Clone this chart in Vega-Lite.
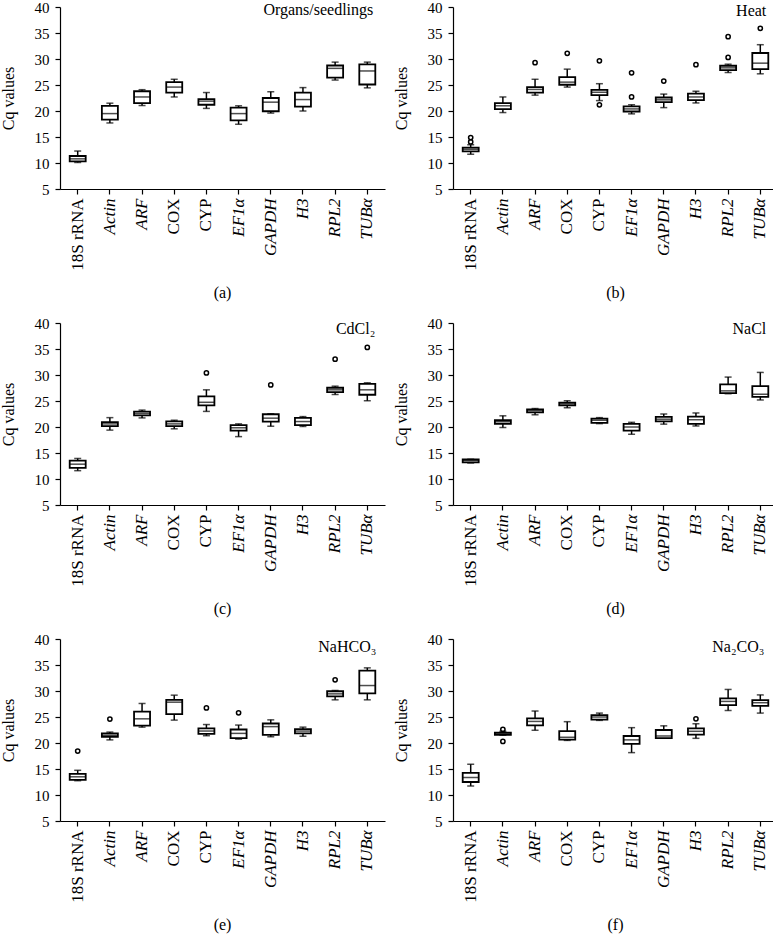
{
  "$schema": "https://vega.github.io/schema/vega-lite/v6.json",
  "padding": {"left": 0, "top": 0, "right": 0, "bottom": 0},
  "datasets": {
    "cq": [
      {"panel": "a", "kind": "label", "name": "Organs/seedlings"},
      {"panel": "b", "kind": "label", "name": "Heat"},
      {"panel": "c", "kind": "label", "name": "CdCl₂"},
      {"panel": "d", "kind": "label", "name": "NaCl"},
      {"panel": "e", "kind": "label", "name": "NaHCO₃"},
      {"panel": "f", "kind": "label", "name": "Na₂CO₃"},

      {"panel": "a", "kind": "box", "gene": "18S rRNA", "lo": 10.1, "q1": 10.3, "med": 10.8, "q3": 11.35, "hi": 12.3},
      {"panel": "a", "kind": "box", "gene": "Actin", "lo": 17.7, "q1": 18.35, "med": 19.5, "q3": 21.0, "hi": 21.5},
      {"panel": "a", "kind": "box", "gene": "ARF", "lo": 21.05, "q1": 21.5, "med": 22.7, "q3": 23.8, "hi": 24.1},
      {"panel": "a", "kind": "box", "gene": "COX", "lo": 22.7, "q1": 23.55, "med": 24.6, "q3": 25.55, "hi": 26.1},
      {"panel": "a", "kind": "box", "gene": "CYP", "lo": 20.5, "q1": 21.2, "med": 21.9, "q3": 22.3, "hi": 23.55},
      {"panel": "a", "kind": "box", "gene": "EF1α", "lo": 17.45, "q1": 18.2, "med": 19.5, "q3": 20.65, "hi": 21.0},
      {"panel": "a", "kind": "box", "gene": "GAPDH", "lo": 19.6, "q1": 19.95, "med": 21.7, "q3": 22.5, "hi": 23.7},
      {"panel": "a", "kind": "box", "gene": "H3", "lo": 20.0, "q1": 20.85, "med": 22.2, "q3": 23.55, "hi": 24.5},
      {"panel": "a", "kind": "box", "gene": "RPL2", "lo": 25.95, "q1": 26.4, "med": 28.2, "q3": 28.75, "hi": 29.4},
      {"panel": "a", "kind": "box", "gene": "TUBα", "lo": 24.45, "q1": 25.1, "med": 27.7, "q3": 28.95, "hi": 29.4},

      {"panel": "b", "kind": "box", "gene": "18S rRNA", "lo": 11.7, "q1": 12.25, "med": 12.65, "q3": 12.95, "hi": 13.5},
      {"panel": "b", "kind": "box", "gene": "Actin", "lo": 19.7, "q1": 20.35, "med": 21.0, "q3": 21.5, "hi": 22.7},
      {"panel": "b", "kind": "box", "gene": "ARF", "lo": 23.05, "q1": 23.55, "med": 24.15, "q3": 24.6, "hi": 26.1},
      {"panel": "b", "kind": "box", "gene": "COX", "lo": 24.6, "q1": 25.05, "med": 25.55, "q3": 26.5, "hi": 28.05},
      {"panel": "b", "kind": "box", "gene": "CYP", "lo": 22.0, "q1": 23.05, "med": 23.6, "q3": 24.05, "hi": 25.25},
      {"panel": "b", "kind": "box", "gene": "EF1α", "lo": 19.45, "q1": 19.9, "med": 20.4, "q3": 20.9, "hi": 21.2},
      {"panel": "b", "kind": "box", "gene": "GAPDH", "lo": 20.65, "q1": 21.7, "med": 22.15, "q3": 22.6, "hi": 23.25},
      {"panel": "b", "kind": "box", "gene": "H3", "lo": 21.55, "q1": 22.1, "med": 22.7, "q3": 23.35, "hi": 23.8},
      {"panel": "b", "kind": "box", "gene": "RPL2", "lo": 27.4, "q1": 27.85, "med": 28.3, "q3": 28.7, "hi": 29.0},
      {"panel": "b", "kind": "box", "gene": "TUBα", "lo": 27.15, "q1": 28.05, "med": 29.2, "q3": 31.15, "hi": 32.75},
      {"panel": "b", "kind": "out", "gene": "18S rRNA", "value": 14.05},
      {"panel": "b", "kind": "out", "gene": "18S rRNA", "value": 14.9},
      {"panel": "b", "kind": "out", "gene": "ARF", "value": 29.3},
      {"panel": "b", "kind": "out", "gene": "COX", "value": 31.1},
      {"panel": "b", "kind": "out", "gene": "CYP", "value": 29.65},
      {"panel": "b", "kind": "out", "gene": "CYP", "value": 21.2},
      {"panel": "b", "kind": "out", "gene": "EF1α", "value": 27.35},
      {"panel": "b", "kind": "out", "gene": "EF1α", "value": 22.7},
      {"panel": "b", "kind": "out", "gene": "GAPDH", "value": 25.75},
      {"panel": "b", "kind": "out", "gene": "H3", "value": 28.9},
      {"panel": "b", "kind": "out", "gene": "RPL2", "value": 34.3},
      {"panel": "b", "kind": "out", "gene": "RPL2", "value": 30.3},
      {"panel": "b", "kind": "out", "gene": "TUBα", "value": 35.9},

      {"panel": "c", "kind": "box", "gene": "18S rRNA", "lo": 11.6, "q1": 12.15, "med": 12.85, "q3": 13.55, "hi": 13.95},
      {"panel": "c", "kind": "box", "gene": "Actin", "lo": 19.4, "q1": 20.15, "med": 20.6, "q3": 20.95, "hi": 21.8},
      {"panel": "c", "kind": "box", "gene": "ARF", "lo": 21.75, "q1": 22.25, "med": 22.6, "q3": 22.95, "hi": 23.25},
      {"panel": "c", "kind": "box", "gene": "COX", "lo": 19.65, "q1": 20.15, "med": 20.6, "q3": 21.1, "hi": 21.3},
      {"panel": "c", "kind": "box", "gene": "CYP", "lo": 23.0, "q1": 24.15, "med": 24.75, "q3": 25.9, "hi": 27.15},
      {"panel": "c", "kind": "box", "gene": "EF1α", "lo": 18.15, "q1": 19.3, "med": 19.85, "q3": 20.35, "hi": 20.6},
      {"panel": "c", "kind": "box", "gene": "GAPDH", "lo": 20.15, "q1": 21.05, "med": 21.7, "q3": 22.45, "hi": 22.55},
      {"panel": "c", "kind": "box", "gene": "H3", "lo": 20.1, "q1": 20.35, "med": 21.05, "q3": 21.75, "hi": 22.0},
      {"panel": "c", "kind": "box", "gene": "RPL2", "lo": 26.25, "q1": 26.7, "med": 27.15, "q3": 27.55, "hi": 27.85},
      {"panel": "c", "kind": "box", "gene": "TUBα", "lo": 25.05, "q1": 26.2, "med": 27.15, "q3": 28.3, "hi": 28.5},
      {"panel": "c", "kind": "out", "gene": "CYP", "value": 30.4},
      {"panel": "c", "kind": "out", "gene": "GAPDH", "value": 28.1},
      {"panel": "c", "kind": "out", "gene": "RPL2", "value": 33.05},
      {"panel": "c", "kind": "out", "gene": "TUBα", "value": 35.3},

      {"panel": "d", "kind": "box", "gene": "18S rRNA", "lo": 13.1, "q1": 13.2, "med": 13.55, "q3": 13.75, "hi": 13.8},
      {"panel": "d", "kind": "box", "gene": "Actin", "lo": 19.9, "q1": 20.6, "med": 21.0, "q3": 21.3, "hi": 22.15},
      {"panel": "d", "kind": "box", "gene": "ARF", "lo": 22.35, "q1": 22.8, "med": 23.15, "q3": 23.4, "hi": 23.55},
      {"panel": "d", "kind": "box", "gene": "COX", "lo": 23.7, "q1": 24.15, "med": 24.45, "q3": 24.7, "hi": 25.05},
      {"panel": "d", "kind": "box", "gene": "CYP", "lo": 20.65, "q1": 20.8, "med": 21.3, "q3": 21.6, "hi": 21.8},
      {"panel": "d", "kind": "box", "gene": "EF1α", "lo": 18.6, "q1": 19.3, "med": 20.0, "q3": 20.6, "hi": 20.9},
      {"panel": "d", "kind": "box", "gene": "GAPDH", "lo": 20.55, "q1": 21.1, "med": 21.5, "q3": 21.95, "hi": 22.5},
      {"panel": "d", "kind": "box", "gene": "H3", "lo": 20.2, "q1": 20.6, "med": 21.4, "q3": 22.0, "hi": 22.7},
      {"panel": "d", "kind": "box", "gene": "RPL2", "lo": 26.4, "q1": 26.5, "med": 26.95, "q3": 28.2, "hi": 29.6},
      {"panel": "d", "kind": "box", "gene": "TUBα", "lo": 25.2, "q1": 25.8, "med": 26.3, "q3": 27.85, "hi": 30.5},

      {"panel": "e", "kind": "box", "gene": "18S rRNA", "lo": 12.75, "q1": 12.9, "med": 13.5, "q3": 14.05, "hi": 14.75},
      {"panel": "e", "kind": "box", "gene": "Actin", "lo": 20.6, "q1": 21.2, "med": 21.5, "q3": 21.85, "hi": 22.1},
      {"panel": "e", "kind": "box", "gene": "ARF", "lo": 23.05, "q1": 23.35, "med": 24.65, "q3": 26.05, "hi": 27.6},
      {"panel": "e", "kind": "box", "gene": "COX", "lo": 24.4, "q1": 25.55, "med": 27.85, "q3": 28.3, "hi": 29.2},
      {"panel": "e", "kind": "box", "gene": "CYP", "lo": 21.4, "q1": 21.75, "med": 22.3, "q3": 22.8, "hi": 23.55},
      {"panel": "e", "kind": "box", "gene": "EF1α", "lo": 20.75, "q1": 20.95, "med": 21.85, "q3": 22.6, "hi": 23.45},
      {"panel": "e", "kind": "box", "gene": "GAPDH", "lo": 21.2, "q1": 21.55, "med": 23.15, "q3": 23.75, "hi": 24.45},
      {"panel": "e", "kind": "box", "gene": "H3", "lo": 21.3, "q1": 21.85, "med": 22.3, "q3": 22.65, "hi": 23.05},
      {"panel": "e", "kind": "box", "gene": "RPL2", "lo": 28.3, "q1": 28.95, "med": 29.45, "q3": 29.95, "hi": 30.1},
      {"panel": "e", "kind": "box", "gene": "TUBα", "lo": 28.3, "q1": 29.55, "med": 31.05, "q3": 33.9, "hi": 34.45},
      {"panel": "e", "kind": "out", "gene": "18S rRNA", "value": 18.45},
      {"panel": "e", "kind": "out", "gene": "Actin", "value": 24.6},
      {"panel": "e", "kind": "out", "gene": "CYP", "value": 26.75},
      {"panel": "e", "kind": "out", "gene": "EF1α", "value": 25.8},
      {"panel": "e", "kind": "out", "gene": "RPL2", "value": 32.15},

      {"panel": "f", "kind": "box", "gene": "18S rRNA", "lo": 11.75, "q1": 12.5, "med": 13.35, "q3": 14.25, "hi": 15.9},
      {"panel": "f", "kind": "box", "gene": "Actin", "lo": 21.5, "q1": 21.55, "med": 21.8, "q3": 22.0, "hi": 22.25},
      {"panel": "f", "kind": "box", "gene": "ARF", "lo": 22.45, "q1": 23.4, "med": 24.15, "q3": 24.75, "hi": 26.15},
      {"panel": "f", "kind": "box", "gene": "COX", "lo": 20.5, "q1": 20.65, "med": 21.1, "q3": 22.3, "hi": 24.1},
      {"panel": "f", "kind": "box", "gene": "CYP", "lo": 24.35, "q1": 24.5, "med": 25.0, "q3": 25.35, "hi": 25.75},
      {"panel": "f", "kind": "box", "gene": "EF1α", "lo": 18.15, "q1": 19.85, "med": 20.6, "q3": 21.35, "hi": 22.95},
      {"panel": "f", "kind": "box", "gene": "GAPDH", "lo": 20.95, "q1": 20.95, "med": 21.35, "q3": 22.5, "hi": 23.3},
      {"panel": "f", "kind": "box", "gene": "H3", "lo": 20.9, "q1": 21.6, "med": 22.25, "q3": 22.8, "hi": 23.7},
      {"panel": "f", "kind": "box", "gene": "RPL2", "lo": 26.25, "q1": 27.3, "med": 28.0, "q3": 28.6, "hi": 30.3},
      {"panel": "f", "kind": "box", "gene": "TUBα", "lo": 25.75, "q1": 27.15, "med": 27.75, "q3": 28.25, "hi": 29.25},
      {"panel": "f", "kind": "out", "gene": "Actin", "value": 22.6},
      {"panel": "f", "kind": "out", "gene": "Actin", "value": 20.3},
      {"panel": "f", "kind": "out", "gene": "H3", "value": 24.65}
    ]
  },
  "columns": 2,
  "spacing": {"row": 14, "column": 8},
  "concat": [
    {
      "width": 325, "height": 182,
      "data": {"name": "cq"},
      "transform": [{"filter": "datum.panel == 'a'"}],
      "title": {"text": "(a)"},
      "encoding": {"x": {"field": "gene", "type": "nominal", "title": null,
        "scale": {"domain": ["18S rRNA","Actin","ARF","COX","CYP","EF1α","GAPDH","H3","RPL2","TUBα"], "paddingInner": 0, "paddingOuter": 0.05},
        "axis": {"labelFontStyle": {"condition": {"test": "datum.value == '18S rRNA' || datum.value == 'COX' || datum.value == 'CYP'", "value": "normal"}, "value": "italic"}}}},
      "layer": [
        {"transform": [{"filter": "datum.kind == 'box'"}], "mark": {"type": "rule", "color": "black", "strokeWidth": 1.5},
         "encoding": {"y": {"field": "lo", "type": "quantitative", "title": "Cq values", "scale": {"domain": [5, 40]}}, "y2": {"field": "hi"}}},
        {"transform": [{"filter": "datum.kind == 'box'"}], "mark": {"type": "tick", "color": "black", "size": 7, "thickness": 1.5},
         "encoding": {"y": {"field": "lo", "type": "quantitative", "title": "Cq values"}}},
        {"transform": [{"filter": "datum.kind == 'box'"}], "mark": {"type": "tick", "color": "black", "size": 7, "thickness": 1.5},
         "encoding": {"y": {"field": "hi", "type": "quantitative", "title": "Cq values"}}},
        {"transform": [{"filter": "datum.kind == 'box'"}], "mark": {"type": "bar", "fill": "white", "stroke": "black", "strokeWidth": 1.8, "size": 16},
         "encoding": {"y": {"field": "q1", "type": "quantitative", "title": "Cq values"}, "y2": {"field": "q3"}}},
        {"transform": [{"filter": "datum.kind == 'box'"}], "mark": {"type": "tick", "color": "black", "size": 16, "thickness": 1.5},
         "encoding": {"y": {"field": "med", "type": "quantitative", "title": "Cq values"}}},
        {"transform": [{"filter": "datum.kind == 'label'"}], "mark": {"type": "text", "align": "right", "baseline": "top", "fontSize": 16, "dx": 6, "dy": -5, "color": "black"},
         "encoding": {"x": {"datum": "TUBα"}, "y": {"datum": 40}, "text": {"field": "name"}}}
      ]
    },
    {
      "width": 325, "height": 182,
      "data": {"name": "cq"},
      "transform": [{"filter": "datum.panel == 'b'"}],
      "title": {"text": "(b)"},
      "encoding": {"x": {"field": "gene", "type": "nominal", "title": null,
        "scale": {"domain": ["18S rRNA","Actin","ARF","COX","CYP","EF1α","GAPDH","H3","RPL2","TUBα"], "paddingInner": 0, "paddingOuter": 0.05},
        "axis": {"labelFontStyle": {"condition": {"test": "datum.value == '18S rRNA' || datum.value == 'COX' || datum.value == 'CYP'", "value": "normal"}, "value": "italic"}}}},
      "layer": [
        {"transform": [{"filter": "datum.kind == 'box'"}], "mark": {"type": "rule", "color": "black", "strokeWidth": 1.5},
         "encoding": {"y": {"field": "lo", "type": "quantitative", "title": "Cq values", "scale": {"domain": [5, 40]}}, "y2": {"field": "hi"}}},
        {"transform": [{"filter": "datum.kind == 'box'"}], "mark": {"type": "tick", "color": "black", "size": 7, "thickness": 1.5},
         "encoding": {"y": {"field": "lo", "type": "quantitative", "title": "Cq values"}}},
        {"transform": [{"filter": "datum.kind == 'box'"}], "mark": {"type": "tick", "color": "black", "size": 7, "thickness": 1.5},
         "encoding": {"y": {"field": "hi", "type": "quantitative", "title": "Cq values"}}},
        {"transform": [{"filter": "datum.kind == 'box'"}], "mark": {"type": "bar", "fill": "white", "stroke": "black", "strokeWidth": 1.8, "size": 16},
         "encoding": {"y": {"field": "q1", "type": "quantitative", "title": "Cq values"}, "y2": {"field": "q3"}}},
        {"transform": [{"filter": "datum.kind == 'box'"}], "mark": {"type": "tick", "color": "black", "size": 16, "thickness": 1.5},
         "encoding": {"y": {"field": "med", "type": "quantitative", "title": "Cq values"}}},
        {"transform": [{"filter": "datum.kind == 'out'"}], "mark": {"type": "point", "shape": "circle", "filled": false, "stroke": "black", "strokeWidth": 1.5, "size": 18, "opacity": 1},
         "encoding": {"y": {"field": "value", "type": "quantitative", "title": "Cq values"}}},
        {"transform": [{"filter": "datum.kind == 'label'"}], "mark": {"type": "text", "align": "right", "baseline": "top", "fontSize": 16, "dx": 6, "dy": -4, "color": "black"},
         "encoding": {"x": {"datum": "TUBα"}, "y": {"datum": 40}, "text": {"field": "name"}}}
      ]
    },
    {
      "width": 325, "height": 182,
      "data": {"name": "cq"},
      "transform": [{"filter": "datum.panel == 'c'"}],
      "title": {"text": "(c)"},
      "encoding": {"x": {"field": "gene", "type": "nominal", "title": null,
        "scale": {"domain": ["18S rRNA","Actin","ARF","COX","CYP","EF1α","GAPDH","H3","RPL2","TUBα"], "paddingInner": 0, "paddingOuter": 0.05},
        "axis": {"labelFontStyle": {"condition": {"test": "datum.value == '18S rRNA' || datum.value == 'COX' || datum.value == 'CYP'", "value": "normal"}, "value": "italic"}}}},
      "layer": [
        {"transform": [{"filter": "datum.kind == 'box'"}], "mark": {"type": "rule", "color": "black", "strokeWidth": 1.5},
         "encoding": {"y": {"field": "lo", "type": "quantitative", "title": "Cq values", "scale": {"domain": [5, 40]}}, "y2": {"field": "hi"}}},
        {"transform": [{"filter": "datum.kind == 'box'"}], "mark": {"type": "tick", "color": "black", "size": 7, "thickness": 1.5},
         "encoding": {"y": {"field": "lo", "type": "quantitative", "title": "Cq values"}}},
        {"transform": [{"filter": "datum.kind == 'box'"}], "mark": {"type": "tick", "color": "black", "size": 7, "thickness": 1.5},
         "encoding": {"y": {"field": "hi", "type": "quantitative", "title": "Cq values"}}},
        {"transform": [{"filter": "datum.kind == 'box'"}], "mark": {"type": "bar", "fill": "white", "stroke": "black", "strokeWidth": 1.8, "size": 16},
         "encoding": {"y": {"field": "q1", "type": "quantitative", "title": "Cq values"}, "y2": {"field": "q3"}}},
        {"transform": [{"filter": "datum.kind == 'box'"}], "mark": {"type": "tick", "color": "black", "size": 16, "thickness": 1.5},
         "encoding": {"y": {"field": "med", "type": "quantitative", "title": "Cq values"}}},
        {"transform": [{"filter": "datum.kind == 'out'"}], "mark": {"type": "point", "shape": "circle", "filled": false, "stroke": "black", "strokeWidth": 1.5, "size": 18, "opacity": 1},
         "encoding": {"y": {"field": "value", "type": "quantitative", "title": "Cq values"}}},
        {"transform": [{"filter": "datum.kind == 'label'"}], "mark": {"type": "text", "align": "right", "baseline": "top", "fontSize": 16, "dx": 8, "dy": -2, "color": "black"},
         "encoding": {"x": {"datum": "TUBα"}, "y": {"datum": 40}, "text": {"field": "name"}}}
      ]
    },
    {
      "width": 325, "height": 182,
      "data": {"name": "cq"},
      "transform": [{"filter": "datum.panel == 'd'"}],
      "title": {"text": "(d)"},
      "encoding": {"x": {"field": "gene", "type": "nominal", "title": null,
        "scale": {"domain": ["18S rRNA","Actin","ARF","COX","CYP","EF1α","GAPDH","H3","RPL2","TUBα"], "paddingInner": 0, "paddingOuter": 0.05},
        "axis": {"labelFontStyle": {"condition": {"test": "datum.value == '18S rRNA' || datum.value == 'COX' || datum.value == 'CYP'", "value": "normal"}, "value": "italic"}}}},
      "layer": [
        {"transform": [{"filter": "datum.kind == 'box'"}], "mark": {"type": "rule", "color": "black", "strokeWidth": 1.5},
         "encoding": {"y": {"field": "lo", "type": "quantitative", "title": "Cq values", "scale": {"domain": [5, 40]}}, "y2": {"field": "hi"}}},
        {"transform": [{"filter": "datum.kind == 'box'"}], "mark": {"type": "tick", "color": "black", "size": 7, "thickness": 1.5},
         "encoding": {"y": {"field": "lo", "type": "quantitative", "title": "Cq values"}}},
        {"transform": [{"filter": "datum.kind == 'box'"}], "mark": {"type": "tick", "color": "black", "size": 7, "thickness": 1.5},
         "encoding": {"y": {"field": "hi", "type": "quantitative", "title": "Cq values"}}},
        {"transform": [{"filter": "datum.kind == 'box'"}], "mark": {"type": "bar", "fill": "white", "stroke": "black", "strokeWidth": 1.8, "size": 16},
         "encoding": {"y": {"field": "q1", "type": "quantitative", "title": "Cq values"}, "y2": {"field": "q3"}}},
        {"transform": [{"filter": "datum.kind == 'box'"}], "mark": {"type": "tick", "color": "black", "size": 16, "thickness": 1.5},
         "encoding": {"y": {"field": "med", "type": "quantitative", "title": "Cq values"}}},
        {"transform": [{"filter": "datum.kind == 'label'"}], "mark": {"type": "text", "align": "right", "baseline": "top", "fontSize": 16, "dx": 6, "dy": -2, "color": "black"},
         "encoding": {"x": {"datum": "TUBα"}, "y": {"datum": 40}, "text": {"field": "name"}}}
      ]
    },
    {
      "width": 325, "height": 182,
      "data": {"name": "cq"},
      "transform": [{"filter": "datum.panel == 'e'"}],
      "title": {"text": "(e)"},
      "encoding": {"x": {"field": "gene", "type": "nominal", "title": null,
        "scale": {"domain": ["18S rRNA","Actin","ARF","COX","CYP","EF1α","GAPDH","H3","RPL2","TUBα"], "paddingInner": 0, "paddingOuter": 0.05},
        "axis": {"labelFontStyle": {"condition": {"test": "datum.value == '18S rRNA' || datum.value == 'COX' || datum.value == 'CYP'", "value": "normal"}, "value": "italic"}}}},
      "layer": [
        {"transform": [{"filter": "datum.kind == 'box'"}], "mark": {"type": "rule", "color": "black", "strokeWidth": 1.5},
         "encoding": {"y": {"field": "lo", "type": "quantitative", "title": "Cq values", "scale": {"domain": [5, 40]}}, "y2": {"field": "hi"}}},
        {"transform": [{"filter": "datum.kind == 'box'"}], "mark": {"type": "tick", "color": "black", "size": 7, "thickness": 1.5},
         "encoding": {"y": {"field": "lo", "type": "quantitative", "title": "Cq values"}}},
        {"transform": [{"filter": "datum.kind == 'box'"}], "mark": {"type": "tick", "color": "black", "size": 7, "thickness": 1.5},
         "encoding": {"y": {"field": "hi", "type": "quantitative", "title": "Cq values"}}},
        {"transform": [{"filter": "datum.kind == 'box'"}], "mark": {"type": "bar", "fill": "white", "stroke": "black", "strokeWidth": 1.8, "size": 16},
         "encoding": {"y": {"field": "q1", "type": "quantitative", "title": "Cq values"}, "y2": {"field": "q3"}}},
        {"transform": [{"filter": "datum.kind == 'box'"}], "mark": {"type": "tick", "color": "black", "size": 16, "thickness": 1.5},
         "encoding": {"y": {"field": "med", "type": "quantitative", "title": "Cq values"}}},
        {"transform": [{"filter": "datum.kind == 'out'"}], "mark": {"type": "point", "shape": "circle", "filled": false, "stroke": "black", "strokeWidth": 1.5, "size": 18, "opacity": 1},
         "encoding": {"y": {"field": "value", "type": "quantitative", "title": "Cq values"}}},
        {"transform": [{"filter": "datum.kind == 'label'"}], "mark": {"type": "text", "align": "right", "baseline": "top", "fontSize": 16, "dx": 9, "dy": 0, "color": "black"},
         "encoding": {"x": {"datum": "TUBα"}, "y": {"datum": 40}, "text": {"field": "name"}}}
      ]
    },
    {
      "width": 325, "height": 182,
      "data": {"name": "cq"},
      "transform": [{"filter": "datum.panel == 'f'"}],
      "title": {"text": "(f)"},
      "encoding": {"x": {"field": "gene", "type": "nominal", "title": null,
        "scale": {"domain": ["18S rRNA","Actin","ARF","COX","CYP","EF1α","GAPDH","H3","RPL2","TUBα"], "paddingInner": 0, "paddingOuter": 0.05},
        "axis": {"labelFontStyle": {"condition": {"test": "datum.value == '18S rRNA' || datum.value == 'COX' || datum.value == 'CYP'", "value": "normal"}, "value": "italic"}}}},
      "layer": [
        {"transform": [{"filter": "datum.kind == 'box'"}], "mark": {"type": "rule", "color": "black", "strokeWidth": 1.5},
         "encoding": {"y": {"field": "lo", "type": "quantitative", "title": "Cq values", "scale": {"domain": [5, 40]}}, "y2": {"field": "hi"}}},
        {"transform": [{"filter": "datum.kind == 'box'"}], "mark": {"type": "tick", "color": "black", "size": 7, "thickness": 1.5},
         "encoding": {"y": {"field": "lo", "type": "quantitative", "title": "Cq values"}}},
        {"transform": [{"filter": "datum.kind == 'box'"}], "mark": {"type": "tick", "color": "black", "size": 7, "thickness": 1.5},
         "encoding": {"y": {"field": "hi", "type": "quantitative", "title": "Cq values"}}},
        {"transform": [{"filter": "datum.kind == 'box'"}], "mark": {"type": "bar", "fill": "white", "stroke": "black", "strokeWidth": 1.8, "size": 16},
         "encoding": {"y": {"field": "q1", "type": "quantitative", "title": "Cq values"}, "y2": {"field": "q3"}}},
        {"transform": [{"filter": "datum.kind == 'box'"}], "mark": {"type": "tick", "color": "black", "size": 16, "thickness": 1.5},
         "encoding": {"y": {"field": "med", "type": "quantitative", "title": "Cq values"}}},
        {"transform": [{"filter": "datum.kind == 'out'"}], "mark": {"type": "point", "shape": "circle", "filled": false, "stroke": "black", "strokeWidth": 1.5, "size": 18, "opacity": 1},
         "encoding": {"y": {"field": "value", "type": "quantitative", "title": "Cq values"}}},
        {"transform": [{"filter": "datum.kind == 'label'"}], "mark": {"type": "text", "align": "right", "baseline": "top", "fontSize": 16, "dx": 4, "dy": 0, "color": "black"},
         "encoding": {"x": {"datum": "TUBα"}, "y": {"datum": 40}, "text": {"field": "name"}}}
      ]
    }
  ],
  "config": {
    "font": "Liberation Serif",
    "view": {"stroke": null},
    "axis": {"grid": false, "domainColor": "black", "tickColor": "black", "labelColor": "black", "titleColor": "black",
             "domainWidth": 1.2, "tickWidth": 1.2, "tickSize": 5, "labelFont": "Liberation Serif", "titleFont": "Liberation Serif",
             "titleFontWeight": "normal", "titleFontSize": 16},
    "axisX": {"labelAngle": 270, "labelFontSize": 17, "labelPadding": 4},
    "axisY": {"values": [5, 10, 15, 20, 25, 30, 35, 40], "labelFontSize": 15, "labelPadding": 6, "titlePadding": 18},
    "title": {"orient": "bottom", "fontSize": 16, "fontWeight": "normal", "font": "Liberation Serif", "color": "black", "offset": 15}
  }
}
